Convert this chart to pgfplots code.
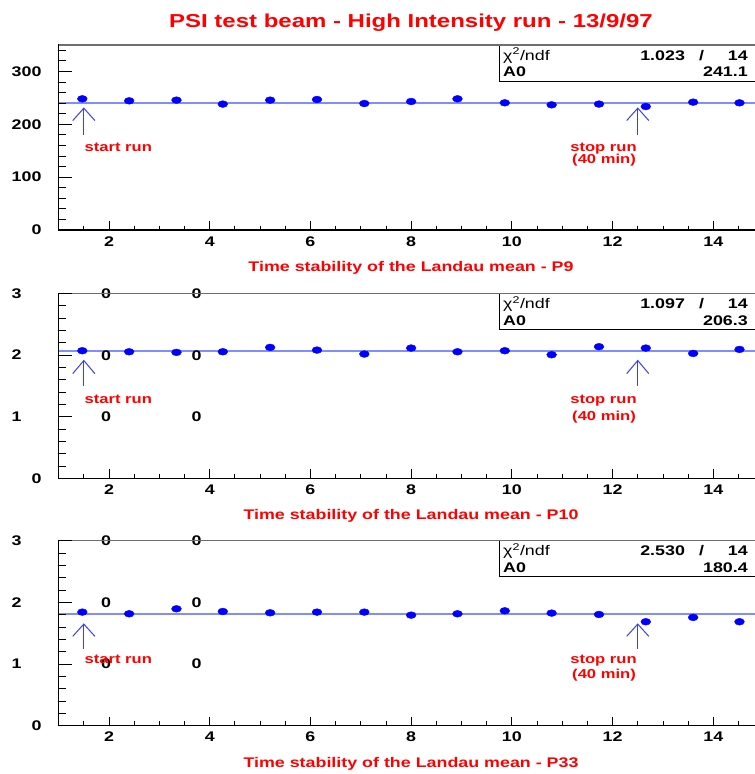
\documentclass[border=0pt]{standalone}
\usepackage{pgfplots}
\pgfplotsset{compat=1.18}
\usepackage{fontspec}
\setmainfont{Liberation Sans}[FakeStretch=1.28]
\definecolor{fitblue}{RGB}{128,140,255}
\definecolor{arrblue}{RGB}{60,60,255}
\definecolor{topgray}{RGB}{110,110,110}
\newcommand{\fs}[1]{\fontsize{#1}{#1}\selectfont}
\pgfplotsset{
panelbase/.style={
  scale only axis, width=705bp, height=185bp, anchor=north west,
  xmin=1, xmax=15, xtick pos=left, ytick pos=left, tick align=inside,
  tick style={black, line width=0.8bp},
  /pgf/number format/assume math mode=true,
  clip=false,
},
panel/.style={panelbase,
  xtick={2,4,...,14}, minor xtick={1.5,2,...,14.5}, ytick=\empty,
  major tick length=9bp, minor tick length=4.5bp,
  axis line style={black, line width=1.3bp},
  xticklabel style={font=\fs{14}\bfseries, anchor=base, yshift=-16bp, inner sep=0pt},
},
panelY/.style={panelbase,
  xtick=\empty, major tick length=13bp, minor tick length=7bp,
  axis line style={draw=none},
  yticklabel style={font=\fs{14}\bfseries, anchor=east, xshift=-17bp, inner sep=0pt},
}}
\tikzset{
fitline/.style={fitblue, line width=2bp},
pts/.style={only marks, mark=*, blue, mark size=3.4bp, mark options={xscale=1.45, draw=blue, fill=blue}},
arr/.style={arrblue, line width=1bp},
ann/.style={red, font=\fs{13}\bfseries, anchor=base, inner sep=0pt},
st/.style={font=\fs{14}\bfseries, inner sep=0pt},
zero/.style={font=\fs{14}\bfseries, inner sep=0pt, anchor=center},
}
\begin{document}
\begin{tikzpicture}
% ---------- panel 1 ----------
\begin{axis}[panel, at={(58.64bp,-45bp)}, ymin=0, ymax=350]
\addplot[fitline] coordinates {(1,241.1) (15,241.1)};
\addplot[pts] coordinates {
(1.47,248.2) (2.40,244.4) (3.34,245.7) (4.26,238.2) (5.20,245.7) (6.13,246.9) (7.07,239.3)
(8.00,243.1) (8.92,248.2) (9.86,240.6) (10.79,236.8) (11.73,238.2) (12.66,233.6) (13.60,241.9) (14.52,240.6)};
\draw[arr] (axis cs:1.5,180) -- (axis cs:1.5,230.5);
\draw[arr] (axis cs:1.28,207) -- (axis cs:1.5,230.5) -- (axis cs:1.72,207);
\draw[arr] (axis cs:12.5,180) -- (axis cs:12.5,230.5);
\draw[arr] (axis cs:12.28,207) -- (axis cs:12.5,230.5) -- (axis cs:12.72,207);
\node[ann] at (axis cs:2.185,148.7) {start run};
\node[ann] at (axis cs:11.82,148.7) {stop run};
\node[ann] at (axis cs:11.83,125) {(40 min)};
\draw[black, line width=1bp] (rel axis cs:0.626,1) -- (rel axis cs:0.626,0.805) -- (rel axis cs:1.02,0.805);
\node[font=\fs{14}, inner sep=0pt, anchor=base west] at (rel axis cs:0.6303,0.918) {χ\textsuperscript{2}/ndf};
\node[st, anchor=base east] at (rel axis cs:0.8887,0.918) {1.023};
\node[st, anchor=base] at (rel axis cs:0.9121,0.918) {/};
\node[st, anchor=base east] at (rel axis cs:0.9778,0.918) {14};
\node[st, anchor=base west] at (rel axis cs:0.6303,0.828) {A0};
\node[st, anchor=base east] at (rel axis cs:0.9778,0.828) {241.1};
\draw[topgray, line width=1.3bp] (rel axis cs:0,1) -- (rel axis cs:1,1);
\end{axis}
\begin{axis}[panelY, at={(58.64bp,-45bp)}, ymin=0, ymax=350, ytick={0,100,200,300}, minor ytick={20,40,...,340}]
\end{axis}
% ---------- panel 2 ----------
\begin{axis}[panel, at={(58.64bp,-293.3bp)}, ymin=0, ymax=3]
\addplot[fitline] coordinates {(1,2.063) (15,2.063)};
\addplot[pts] coordinates {
(1.47,2.069) (2.40,2.052) (3.34,2.042) (4.26,2.052) (5.20,2.123) (6.13,2.079) (7.07,2.015)
(8.00,2.112) (8.92,2.052) (9.86,2.069) (10.79,2.004) (11.73,2.134) (12.66,2.112) (13.60,2.025) (14.52,2.090)};
\draw[arr] (axis cs:1.5,1.497) -- (axis cs:1.5,1.91);
\draw[arr] (axis cs:1.28,1.697) -- (axis cs:1.5,1.91) -- (axis cs:1.72,1.697);
\draw[arr] (axis cs:12.5,1.497) -- (axis cs:12.5,1.91);
\draw[arr] (axis cs:12.28,1.697) -- (axis cs:12.5,1.91) -- (axis cs:12.72,1.697);
\node[ann] at (axis cs:2.185,1.205) {start run};
\node[ann] at (axis cs:11.82,1.205) {stop run};
\node[ann] at (axis cs:11.83,0.945) {(40 min)};
\node[zero] at (axis cs:1.94,3) {0};
\node[zero] at (axis cs:3.74,3) {0};
\node[zero] at (axis cs:1.94,1.99) {0};
\node[zero] at (axis cs:3.74,1.99) {0};
\node[zero] at (axis cs:1.94,1) {0};
\node[zero] at (axis cs:3.74,1) {0};
\draw[black, line width=1bp] (rel axis cs:0.626,1) -- (rel axis cs:0.626,0.805) -- (rel axis cs:1.02,0.805);
\node[font=\fs{14}, inner sep=0pt, anchor=base west] at (rel axis cs:0.6303,0.918) {χ\textsuperscript{2}/ndf};
\node[st, anchor=base east] at (rel axis cs:0.8887,0.918) {1.097};
\node[st, anchor=base] at (rel axis cs:0.9121,0.918) {/};
\node[st, anchor=base east] at (rel axis cs:0.9778,0.918) {14};
\node[st, anchor=base west] at (rel axis cs:0.6303,0.828) {A0};
\node[st, anchor=base east] at (rel axis cs:0.9778,0.828) {206.3};
\draw[topgray, line width=1.3bp] (rel axis cs:0,1) -- (rel axis cs:1,1);
\end{axis}
\begin{axis}[panelY, at={(58.64bp,-293.3bp)}, ymin=0, ymax=3, ytick={0,1,2,3},
  yticklabels={0,{1\hspace*{20bp}},{2\hspace*{20bp}},{3\hspace*{20bp}}}, minor ytick={0.2,0.4,...,2.8}]
\end{axis}
% ---------- panel 3 ----------
\begin{axis}[panel, at={(58.64bp,-540.7bp)}, ymin=0, ymax=3]
\addplot[fitline] coordinates {(1,1.804) (15,1.804)};
\addplot[pts] coordinates {
(1.47,1.842) (2.40,1.815) (3.34,1.896) (4.26,1.852) (5.20,1.831) (6.13,1.842) (7.07,1.842)
(8.00,1.793) (8.92,1.815) (9.86,1.863) (10.79,1.826) (11.73,1.804) (12.66,1.686) (13.60,1.756) (14.52,1.686)};
\draw[arr] (axis cs:1.5,1.249) -- (axis cs:1.5,1.648);
\draw[arr] (axis cs:1.28,1.449) -- (axis cs:1.5,1.648) -- (axis cs:1.72,1.449);
\draw[arr] (axis cs:12.5,1.249) -- (axis cs:12.5,1.648);
\draw[arr] (axis cs:12.28,1.449) -- (axis cs:12.5,1.648) -- (axis cs:12.72,1.449);
\node[zero] at (axis cs:1.94,3) {0};
\node[zero] at (axis cs:3.74,3) {0};
\node[zero] at (axis cs:1.94,2) {0};
\node[zero] at (axis cs:3.74,2) {0};
\node[zero] at (axis cs:1.94,1) {0};
\node[zero] at (axis cs:3.74,1) {0};
\node[ann] at (axis cs:2.185,1.007) {start run};
\node[ann] at (axis cs:11.82,1.007) {stop run};
\node[ann] at (axis cs:11.83,0.760) {(40 min)};
\draw[black, line width=1bp] (rel axis cs:0.626,1) -- (rel axis cs:0.626,0.805) -- (rel axis cs:1.02,0.805);
\node[font=\fs{14}, inner sep=0pt, anchor=base west] at (rel axis cs:0.6303,0.918) {χ\textsuperscript{2}/ndf};
\node[st, anchor=base east] at (rel axis cs:0.8887,0.918) {2.530};
\node[st, anchor=base] at (rel axis cs:0.9121,0.918) {/};
\node[st, anchor=base east] at (rel axis cs:0.9778,0.918) {14};
\node[st, anchor=base west] at (rel axis cs:0.6303,0.828) {A0};
\node[st, anchor=base east] at (rel axis cs:0.9778,0.828) {180.4};
\draw[topgray, line width=1.3bp] (rel axis cs:0,1) -- (rel axis cs:1,1);
\end{axis}
\begin{axis}[panelY, at={(58.64bp,-540.7bp)}, ymin=0, ymax=3, ytick={0,1,2,3},
  yticklabels={0,{1\hspace*{20bp}},{2\hspace*{20bp}},{3\hspace*{20bp}}}, minor ytick={0.2,0.4,...,2.8}]
\end{axis}
% ---------- titles ----------
\node[red, font=\fs{18.8}\bfseries, anchor=base, inner sep=0pt] at (411bp,-27.3bp) {PSI test beam - High Intensity run - 13/9/97};
\node[red, font=\fs{14}\bfseries, anchor=base, inner sep=0pt] at (411bp,-271.7bp) {Time stability of the Landau mean - P9};
\node[red, font=\fs{14}\bfseries, anchor=base, inner sep=0pt] at (411bp,-519.3bp) {Time stability of the Landau mean - P10};
\node[red, font=\fs{14}\bfseries, anchor=base, inner sep=0pt] at (411bp,-767.7bp) {Time stability of the Landau mean - P33};
\pgfresetboundingbox
\path[use as bounding box] (0bp,0bp) rectangle (755bp,-774bp);
\end{tikzpicture}
\end{document}
